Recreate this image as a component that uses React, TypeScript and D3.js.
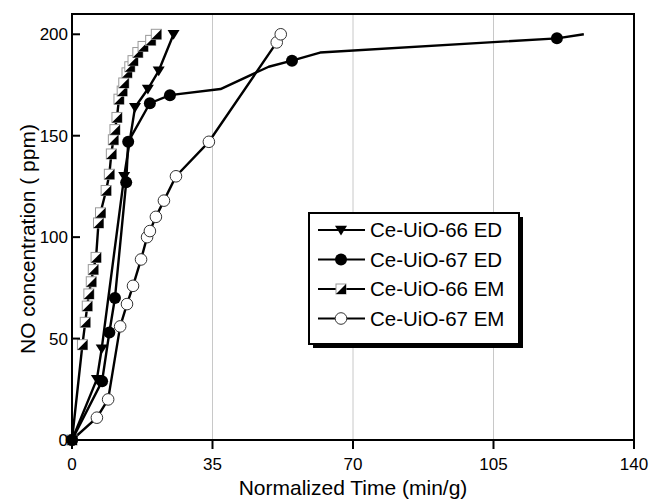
import React from "react";
import * as d3 from "d3";

// [time, conc, marker?]
const ed66: [number, number, number][] = [
  [0, 0, 1], [6.2, 30, 1], [7.4, 45, 1], [13.0, 130, 1], [15.7, 164, 1],
  [18.9, 173, 1], [21.6, 182, 1], [25.3, 200, 1],
];
const ed67: [number, number, number][] = [
  [0, 0, 1], [7.5, 29, 1], [9.3, 53, 1], [10.7, 70, 1], [13.5, 127, 1],
  [14.0, 147, 1], [19.4, 166, 1], [24.4, 170, 1], [37, 173, 0], [49, 184, 0],
  [54.8, 187, 1], [61.8, 191, 0], [120.8, 198, 1], [127.5, 200, 0],
];
const em66: [number, number, number][] = [
  [0, 0, 1], [2.6, 47, 1], [3.3, 58, 1], [3.8, 66, 1], [4.2, 72, 1],
  [4.8, 78, 1], [5.3, 84, 1], [6.0, 90, 1], [6.6, 107, 1], [7.1, 112, 1],
  [8.5, 123, 1], [9.3, 131, 1], [9.8, 141, 1], [10.3, 148, 1], [10.7, 153, 1],
  [11.2, 159, 1], [11.7, 168, 1], [12.5, 172, 1], [12.9, 176, 1], [13.7, 181, 1],
  [14.4, 184, 1], [15.2, 187, 1], [16.4, 191, 1], [17.7, 194, 1], [19.6, 197, 1],
  [21.0, 200, 1],
];
const em67: [number, number, number][] = [
  [0, 0, 1], [6.2, 11, 1], [9.0, 20, 1], [12.0, 56, 1], [13.7, 67, 1],
  [15.2, 76, 1], [17.2, 89, 1], [18.7, 100, 1], [19.4, 103, 1], [20.9, 110, 1],
  [22.9, 118, 1], [25.9, 130, 1], [34.1, 147, 1], [51.0, 196, 1], [52.0, 200, 1],
];

const seriesNames = ["Ce-UiO-66 ED", "Ce-UiO-67 ED", "Ce-UiO-66 EM", "Ce-UiO-67 EM"];
const seriesShapes = ["tri", "dot", "half", "open"];
const xTicks = [0, 35, 70, 105, 140];
const yTicks = [0, 50, 100, 150, 200];
const gridX = [35, 70, 105];

const FONT = "'Liberation Sans', Arial, sans-serif";

const Marker = ({ shape, cx, cy }: { shape: string; cx: number; cy: number }) => {
  if (shape === "tri") {
    const s = 6;
    return <path d={`M${cx - s},${cy - s * 0.7}L${cx + s},${cy - s * 0.7}L${cx},${cy + s * 0.9}Z`} fill="#000" />;
  }
  if (shape === "dot") return <circle cx={cx} cy={cy} r={6} fill="#000" />;
  if (shape === "open") return <circle cx={cx} cy={cy} r={5.8} fill="#fff" stroke="#333" strokeWidth={1} />;
  const h = 5;
  return (
    <g>
      <rect x={cx - h} y={cy - h} width={2 * h} height={2 * h} fill="#fff" stroke="#999" strokeWidth={1} />
      <path d={`M${cx - h},${cy + h}L${cx + h},${cy - h}L${cx + h},${cy + h}Z`} fill="#000" />
    </g>
  );
};

const App = () => {
  const W = 655, H = 499;
  const x = d3.scaleLinear().domain([0, 140]).range([72, 634]);
  const y = d3.scaleLinear().domain([0, 210]).range([440, 14]);
  const line = d3.line<[number, number, number]>().x((d) => x(d[0])).y((d) => y(d[1]));
  const all = [ed66, ed67, em66, em67];

  // legend
  const lx = 309, ly = 213, lw = 210, lh = 131;

  return (
    <svg width={W} height={H} style={{ position: "absolute", left: 0, top: 0 }} fontFamily={FONT}>
      <rect width={W} height={H} fill="#fff" />
      {gridX.map((g) => (
        <line key={g} x1={x(g)} x2={x(g)} y1={y(210)} y2={y(0)} stroke="#c8c8c8" strokeWidth={1} />
      ))}
      {/* series, drawn back to front */}
      {[3, 2, 1, 0].map((i) => (
        <g key={i}>
          <path d={line(all[i]) || ""} fill="none" stroke="#000" strokeWidth={2.4} strokeLinejoin="round" />
          {all[i].filter((d) => d[2]).map((d, j) => (
            <Marker key={j} shape={seriesShapes[i]} cx={x(d[0])} cy={y(d[1])} />
          ))}
        </g>
      ))}
      {/* frame */}
      <rect x={x(0)} y={y(210)} width={x(140) - x(0)} height={y(0) - y(210)} fill="none" stroke="#000" strokeWidth={2} />
      {yTicks.map((t) => (
        <g key={t}>
          <line x1={x(0)} x2={x(0) + 8} y1={y(t)} y2={y(t)} stroke="#000" strokeWidth={2} />
          <text x={x(0) - 4} y={y(t)} dy="0.35em" textAnchor="end" fontSize={17}>{t}</text>
        </g>
      ))}
      {xTicks.map((t) => (
        <g key={t}>
          <line x1={x(t)} x2={x(t)} y1={y(0)} y2={y(0) + 9} stroke="#000" strokeWidth={2} />
          <text x={x(t)} y={y(0) + 30} textAnchor="middle" fontSize={17}>{t}</text>
        </g>
      ))}
      <text x={(x(0) + x(140)) / 2} y={495} textAnchor="middle" fontSize={21}>Normalized Time (min/g)</text>
      <text transform={`translate(35,${(y(0) + y(210)) / 2 + 12}) rotate(-90)`} textAnchor="middle" fontSize={21}>
        NO concentration ( ppm)
      </text>
      {/* legend */}
      <rect x={lx + 4} y={ly + 4} width={lw} height={lh} fill="#000" />
      <rect x={lx} y={ly} width={lw} height={lh} fill="#fff" stroke="#000" strokeWidth={2} />
      {seriesNames.map((n, i) => {
        const yy = ly + 17 + i * 29.5;
        return (
          <g key={n}>
            <line x1={lx + 9} x2={lx + 56} y1={yy} y2={yy} stroke="#000" strokeWidth={2} />
            <Marker shape={seriesShapes[i]} cx={lx + 32} cy={yy} />
            <text x={lx + 61} y={yy} dy="0.36em" fontSize={20.5}>{n}</text>
          </g>
        );
      })}
    </svg>
  );
};

export default App;
